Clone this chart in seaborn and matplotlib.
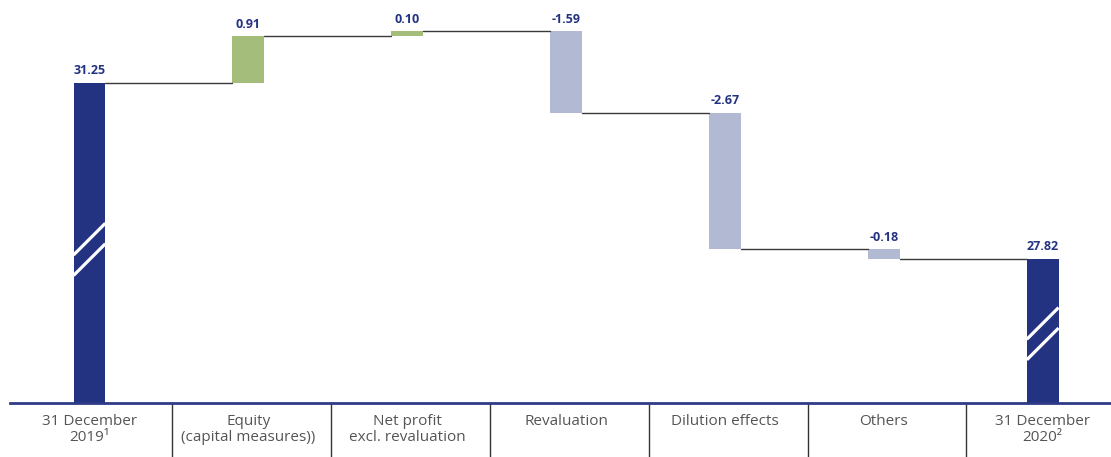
import numpy as np
import pandas as pd
import matplotlib
matplotlib.use("Agg")
import matplotlib.pyplot as plt
import matplotlib.transforms as mtransforms
import seaborn as sns

# dados do gráfico
categorias = ["31 December\n2019\u00b9", "Equity\n(capital measures))", "Net profit\nexcl. revaluation",
              "Revaluation", "Dilution effects", "Others", "31 December\n2020\u00b2"]
valores = [31.25, 0.91, 0.10, -1.59, -2.67, -0.18, 27.82]
rotulos = ["31.25", "0.91", "0.10", "-1.59", "-2.67", "-0.18", "27.82"]
tipos = ["total", "up", "up", "down", "down", "down", "total"]

cores = {"total": "#243282", "up": "#a4bd7b", "down": "#b1b9d3"}
navy = "#243282"

sns.set_theme(style="white")
plt.rcParams["font.family"] = ["Open Sans", "DejaVu Sans"]

# base e altura de cada barra (cascata)
base, altura, nivel = [], [], []
acum = 0
for v, t in zip(valores, tipos):
    if t == "total":
        base.append(0)
        altura.append(v)
        acum = v
    else:
        base.append(min(acum, acum + v))
        altura.append(abs(v))
        acum = acum + v
    nivel.append(acum)

dados = pd.DataFrame({"categoria": categorias, "altura": altura})

fig = plt.figure(figsize=(11.11, 4.57), dpi=100)
ax = fig.add_axes([10 / 1111, 54 / 457, 1 - 10 / 1111, 1 - 54 / 457])

sns.barplot(data=dados, x="categoria", y="altura", ax=ax, width=0.2,
            bottom=base, color=navy, linewidth=0, saturation=1)
for p, t in zip(ax.patches, tipos):
    p.set_facecolor(cores[t])

ax.set_ylim(25, 32.87)
ax.set_xlim(-0.5, 6.43)

# linhas de ligação
for i in range(len(valores) - 1):
    ax.plot([i + 0.1, i + 0.9], [nivel[i], nivel[i]], color="#3a3a3a", lw=1, zorder=1)

# rótulos de valor
for i, (r, b, h) in enumerate(zip(rotulos, base, altura)):
    ax.annotate(r, (i, b + h), xytext=(0, 4), textcoords="offset points",
                ha="center", va="bottom", fontsize=9, fontweight="bold", color=navy)

# marcas de quebra nas barras de total
for i, t in enumerate(tipos):
    if t != "total":
        continue
    meio = 25 + (altura[i] - 25) * 0.48
    for off in (0.2, -0.2):
        ax.plot([i - 0.1, i + 0.1], [meio + off - 0.31, meio + off + 0.31],
                color="white", lw=2.3, solid_capstyle="butt", zorder=5)

# eixo
sns.despine(ax=ax, left=True)
ax.spines["bottom"].set_color("#2e3b86")
ax.spines["bottom"].set_linewidth(2)
ax.set_yticks([])
ax.set_xlabel("")
ax.set_ylabel("")
ax.tick_params(axis="x", length=0, pad=8, labelsize=11, labelcolor="#555555")
for lab in ax.get_xticklabels():
    lab.set_linespacing(1.1)

# separadores entre categorias
trans = mtransforms.blended_transform_factory(ax.transData, ax.transAxes)
for i in range(len(categorias) - 1):
    ax.plot([i + 0.52, i + 0.52], [0, -0.2], color="#333333", lw=1,
            transform=trans, clip_on=False)

fig.savefig("out.png", dpi=100)
